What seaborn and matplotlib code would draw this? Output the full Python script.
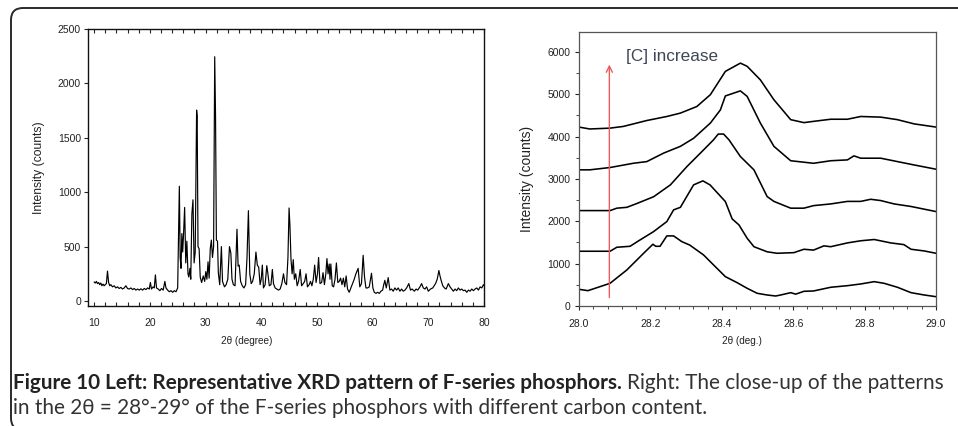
import numpy as np
import pandas as pd
import matplotlib
matplotlib.use("Agg")
import matplotlib.pyplot as plt
import seaborn as sns
from matplotlib.patches import FancyBboxPatch
from matplotlib.transforms import IdentityTransform
from matplotlib.ticker import MultipleLocator, FormatStrFormatter

# ---------------- data ----------------
# left panel: full XRD pattern (polyline vertices)
xrd_2theta = [
    10.0, 10.2, 10.4, 10.6, 10.8, 11.0, 11.2, 11.4, 11.6, 11.8, 12.0, 12.2, 12.4, 12.6, 12.8,
    13.0, 13.3, 13.6, 13.9, 14.2, 14.5, 14.8, 15.1, 15.4, 15.7, 16.0, 16.3, 16.6, 16.9, 17.2,
    17.5, 17.8, 18.1, 18.4, 18.7, 19.0, 19.3, 19.6, 19.9, 20.1, 20.3, 20.6, 20.8, 21.0, 21.2,
    21.5, 21.8, 22.1, 22.4, 22.7, 22.9, 23.2, 23.5, 23.8, 24.1, 24.4, 24.7, 25.0, 25.15, 25.3,
    25.45, 25.6, 25.75, 25.9, 26.05, 26.25, 26.45, 26.65, 26.85, 27.0, 27.2, 27.35, 27.55, 27.75,
    27.95, 28.15, 28.4, 28.5, 28.65, 28.85, 29.05, 29.3, 29.6, 29.85, 30.05, 30.25, 30.45, 30.65,
    30.85, 31.05, 31.25, 31.45, 31.65, 31.8, 31.95, 32.15, 32.3, 32.55, 32.85, 33.05, 33.4, 33.7,
    34.0, 34.3, 34.55, 34.75, 35.0, 35.3, 35.65, 35.85, 36.05, 36.3, 36.6, 36.9, 37.2, 37.45,
    37.7, 37.95, 38.2, 38.45, 38.75, 39.05, 39.3, 39.55, 39.8, 40.0, 40.2, 40.4, 40.7, 41.0,
    41.2, 41.45, 41.75, 42.0, 42.2, 42.5, 42.8, 43.1, 43.4, 43.7, 44.0, 44.25, 44.55, 44.8,
    45.0, 45.15, 45.35, 45.55, 45.75, 45.95, 46.2, 46.45, 46.7, 47.0, 47.25, 47.55, 47.8, 48.05,
    48.3, 48.6, 48.85, 49.1, 49.35, 49.6, 49.85, 50.1, 50.3, 50.55, 50.85, 51.1, 51.35, 51.6,
    51.8, 52.0, 52.2, 52.35, 52.5, 52.75, 53.0, 53.25, 53.5, 53.75, 54.0, 54.25, 54.5, 54.75,
    55.0, 55.25, 55.5, 55.8, 56.1, 56.4, 56.7, 57.0, 57.4, 57.7, 58.0, 58.3, 58.55, 58.8,
    59.1, 59.4, 59.8, 60.05, 60.3, 60.6, 60.9, 61.2, 61.5, 61.8, 62.0, 62.2, 62.45, 62.8,
    63.1, 63.4, 63.7, 64.0, 64.3, 64.6, 64.9, 65.2, 65.5, 65.8, 66.1, 66.5, 66.8, 67.1,
    67.5, 67.8, 68.1, 68.5, 68.8, 69.1, 69.4, 69.7, 70.0, 70.4, 70.8, 71.3, 71.6, 71.9,
    72.1, 72.3, 72.6, 72.9, 73.2, 73.6, 73.9, 74.2, 74.5, 74.8, 75.1, 75.4, 75.7, 76.0,
    76.3, 76.6, 76.9, 77.2, 77.5, 77.8, 78.1, 78.4, 78.7, 79.0, 79.3, 79.6, 79.9, 80.0,
]
xrd_counts = [
    175, 165, 180, 160, 170, 150, 165, 140, 155, 140, 150, 160, 275, 170, 140,
    150, 130, 140, 120, 130, 115, 125, 110, 120, 140, 115, 110, 120, 105, 115,
    100, 110, 100, 112, 100, 115, 105, 120, 110, 170, 110, 130, 120, 240, 120,
    110, 95, 115, 100, 180, 120, 100, 85, 95, 80, 95, 85, 120, 620, 1055,
    400, 300, 620, 450, 610, 860, 350, 550, 250, 220, 300, 200, 800, 930,
    350, 450, 1755, 1700, 500, 480, 220, 170, 230, 180, 270, 200, 360, 210,
    480, 560, 400, 500, 2245, 1700, 560, 550, 260, 150, 500, 180, 130, 150,
    200, 500, 440, 200, 150, 140, 660, 320, 330, 180, 140, 120, 150, 400,
    830, 250, 160, 180, 250, 450, 330, 310, 150, 200, 330, 120, 150, 325,
    250, 140, 150, 290, 160, 120, 110, 100, 110, 160, 250, 170, 150, 400,
    855, 700, 380, 250, 380, 200, 250, 140, 180, 290, 140, 160, 180, 250,
    130, 150, 180, 140, 200, 330, 170, 250, 400, 160, 170, 260, 150, 250,
    390, 250, 340, 200, 340, 140, 130, 200, 350, 170, 180, 210, 150, 210,
    130, 230, 110, 80, 120, 160, 200, 250, 300, 130, 160, 420, 220, 120,
    120, 130, 255, 120, 80, 70, 80, 70, 90, 100, 150, 190, 120, 215,
    100, 110, 90, 120, 100, 120, 90, 110, 90, 100, 120, 160, 100, 110,
    90, 110, 100, 130, 160, 120, 110, 130, 90, 110, 120, 160, 200, 280,
    230, 190, 140, 120, 110, 160, 130, 110, 90, 110, 95, 120, 100, 110,
    95, 100, 80, 100, 90, 110, 95, 110, 120, 100, 130, 120, 150, 140,
]

# right panel: five close-up patterns (bottom -> top = increasing carbon)
c1_x = [28.0, 28.025, 28.087, 28.134, 28.181, 28.207, 28.215, 28.227, 28.246, 28.265, 28.288,
        28.31, 28.349, 28.377, 28.41, 28.443, 28.471, 28.499, 28.527, 28.551, 28.565, 28.593,
        28.607, 28.63, 28.657, 28.705, 28.752, 28.789, 28.827, 28.855, 28.892, 28.93, 28.967, 29.0]
c1_y = [394, 362, 536, 851, 1245, 1458, 1410, 1410, 1655, 1655, 1520,
        1440, 1205, 969, 693, 551, 418, 300, 260, 236, 260, 315,
        280, 347, 355, 442, 480, 520, 575, 535, 442, 315, 260, 220]
c2_x = [28.0, 28.087, 28.106, 28.143, 28.171, 28.209, 28.246, 28.265, 28.284, 28.321, 28.347,
        28.367, 28.41, 28.429, 28.448, 28.471, 28.49, 28.527, 28.555, 28.602, 28.63, 28.657,
        28.686, 28.705, 28.752, 28.789, 28.827, 28.873, 28.91, 28.93, 28.967, 29.0]
c2_y = [1293, 1293, 1387, 1410, 1560, 1757, 1993, 2270, 2330, 2860, 2955,
        2860, 2466, 2057, 1915, 1600, 1400, 1280, 1245, 1260, 1340, 1320,
        1420, 1400, 1490, 1540, 1570, 1490, 1450, 1340, 1300, 1245]
c3_x = [28.0, 28.087, 28.106, 28.134, 28.162, 28.209, 28.256, 28.302, 28.34, 28.377, 28.39,
        28.405, 28.42, 28.452, 28.49, 28.527, 28.546, 28.593, 28.63, 28.657, 28.705, 28.752,
        28.789, 28.817, 28.845, 28.883, 28.93, 29.0]
c3_y = [2253, 2253, 2310, 2330, 2420, 2580, 2860, 3290, 3610, 3925, 4060,
        4060, 3925, 3530, 3215, 2584, 2470, 2310, 2310, 2370, 2410, 2470,
        2470, 2520, 2490, 2410, 2350, 2230]
c4_x = [28.0, 28.03, 28.087, 28.152, 28.19, 28.237, 28.284, 28.321, 28.368, 28.396, 28.41,
        28.424, 28.452, 28.471, 28.508, 28.546, 28.593, 28.657, 28.705, 28.752, 28.77, 28.789,
        28.845, 28.892, 28.939, 29.0]
c4_y = [3215, 3215, 3270, 3370, 3410, 3610, 3770, 3960, 4320, 4630, 4960,
        5000, 5080, 4950, 4320, 3770, 3430, 3370, 3430, 3450, 3545, 3490,
        3490, 3410, 3330, 3230]
c5_x = [28.0, 28.03, 28.087, 28.124, 28.19, 28.246, 28.284, 28.33, 28.368, 28.41, 28.452,
        28.471, 28.508, 28.546, 28.593, 28.63, 28.657, 28.705, 28.752, 28.789, 28.845, 28.892,
        28.939, 29.0]
c5_y = [4225, 4180, 4200, 4240, 4380, 4475, 4555, 4710, 4990, 5540, 5735,
        5660, 5340, 4870, 4400, 4330, 4360, 4410, 4410, 4475, 4460, 4400,
        4300, 4225]

curves = [(c1_x, c1_y), (c2_x, c2_y), (c3_x, c3_y), (c4_x, c4_y), (c5_x, c5_y)]

# ---------------- style ----------------
sns.set_style("ticks")
plt.rcParams['font.family'] = ['Liberation Sans', 'DejaVu Sans']
tick_color = "#222222"

W, H = 958, 426
fig = plt.figure(figsize=(W / 100, H / 100), dpi=100)
fig.patch.set_facecolor("white")

def px_axes(l, t, r, b):
    return fig.add_axes([l / W, 1 - b / H, (r - l) / W, (b - t) / H])

# ---------------- left panel ----------------
ax1 = px_axes(88, 29, 484, 306)
sns.lineplot(x=xrd_2theta, y=xrd_counts, ax=ax1, color="black", lw=0.85,
             estimator=None, sort=False)
ax1.set_xlim(8.9, 80)
ax1.set_ylim(-46, 2500)
ax1.xaxis.set_major_locator(MultipleLocator(10))
ax1.xaxis.set_minor_locator(MultipleLocator(2))
ax1.yaxis.set_major_locator(MultipleLocator(500))
ax1.tick_params(axis="x", which="both", direction="in", top=True, length=3, width=0.8,
                labelsize=7.5, labelcolor=tick_color, pad=9)
ax1.tick_params(axis="y", which="major", direction="out", length=3, width=0.8,
                labelsize=7.5, labelcolor=tick_color, pad=2)
for s in ax1.spines.values():
    s.set_visible(True)
    s.set_linewidth(1.0)
    s.set_color("#111111")
ax1.set_ylabel("Intensity (counts)", fontsize=8.7, color=tick_color)
ax1.yaxis.set_label_coords(-0.109, 0.5)
ax1.set_xlabel("")

# ---------------- right panel ----------------
ax2 = px_axes(579, 32, 936, 306)
for cx, cy in curves:
    sns.lineplot(x=cx, y=cy, ax=ax2, color="black", lw=1.15, estimator=None, sort=False)
ax2.set_xlim(28.0, 29.0)
ax2.set_ylim(0, 6470)
ax2.xaxis.set_major_locator(MultipleLocator(0.2))
ax2.xaxis.set_minor_locator(MultipleLocator(0.04))
ax2.yaxis.set_major_locator(MultipleLocator(1000))
ax2.yaxis.set_minor_locator(MultipleLocator(500))
ax2.xaxis.set_major_formatter(FormatStrFormatter("%.1f"))
ax2.tick_params(axis="x", which="major", direction="out", length=3, width=0.8,
                labelsize=7.5, labelcolor=tick_color, pad=6.5)
ax2.tick_params(axis="y", which="major", direction="out", length=3, width=0.8,
                labelsize=7.5, labelcolor=tick_color, pad=3)
ax2.tick_params(axis="both", which="minor", direction="out", length=2, width=0.6)
for s in ax2.spines.values():
    s.set_visible(True)
    s.set_linewidth(0.9)
    s.set_color("#555555")
ax2.set_ylabel("Intensity (counts)", fontsize=10, color=tick_color)
ax2.yaxis.set_label_coords(-0.126, 0.463)
ax2.set_xlabel("")

ax2.annotate("", xy=(28.085, 5700), xytext=(28.085, 200),
             arrowprops=dict(arrowstyle="->", color="#ee5a5a", lw=1.0,
                             shrinkA=0, shrinkB=0, mutation_scale=11))
ax2.text(28.131, 5880, "[C] increase", fontsize=12.3, color="#3e4656",
         ha="left", va="center")

# x labels
fig.text(247 / W, 1 - 341 / H, "2θ (degree)", fontsize=7.2, color=tick_color,
         ha="center", va="center")
fig.text(742 / W, 1 - 341 / H, "2θ (deg.)", fontsize=7.2, color=tick_color,
         ha="center", va="center")

# ---------------- caption ----------------
cap_font = ["Lato", "DejaVu Sans"]
cap_size = 14.95
renderer = fig.canvas.get_renderer()
t_bold = fig.text(13 / W, 1 - 389 / H,
                  "Figure 10 Left: Representative XRD pattern of F-series phosphors.",
                  fontsize=cap_size, fontweight="bold", family=cap_font,
                  color="#222222", ha="left", va="baseline")
bb = t_bold.get_window_extent(renderer=renderer)
fig.text((bb.x1 + 5) / W, 1 - 389 / H,
         "Right: The close-up of the patterns",
         fontsize=cap_size, family=cap_font, color="#333333", ha="left", va="baseline")
fig.text(13 / W, 1 - 414 / H,
         "in the 2θ = 28°-29° of the F-series phosphors with different carbon content.",
         fontsize=cap_size, family=cap_font, color="#333333", ha="left", va="baseline")

# rounded frame around the figure panel
frame = FancyBboxPatch((11, -4), 1000, H - 8 + 4, boxstyle="round,pad=0,rounding_size=12",
                       transform=IdentityTransform(), fill=False, lw=1.4,
                       edgecolor="#2a2a2a")
fig.add_artist(frame)

fig.savefig("out.png", dpi=100)
